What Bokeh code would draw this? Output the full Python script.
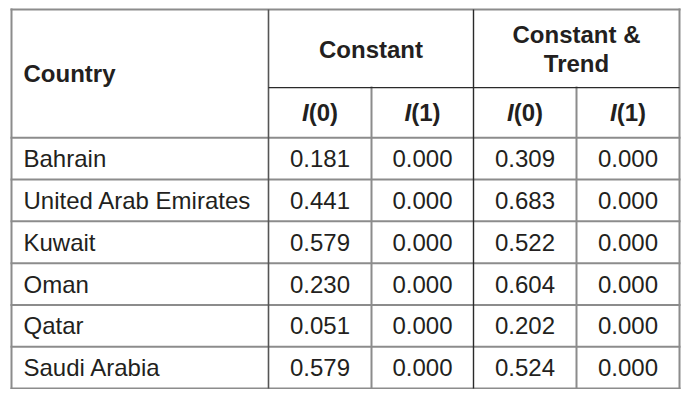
from bokeh.plotting import figure
from bokeh.models import Range1d, ColumnDataSource
from bokeh.core.properties import value
from bokeh.embed import file_html
from bokeh.resources import INLINE

# ---- data ----
countries = ["Bahrain", "United Arab Emirates", "Kuwait", "Oman", "Qatar", "Saudi Arabia"]
constant_i0 = [0.181, 0.441, 0.579, 0.230, 0.051, 0.579]
constant_i1 = [0.000, 0.000, 0.000, 0.000, 0.000, 0.000]
trend_i0 = [0.309, 0.683, 0.522, 0.604, 0.202, 0.524]
trend_i1 = [0.000, 0.000, 0.000, 0.000, 0.000, 0.000]
group_labels = ["Constant", "Constant &\nTrend"]
sub_labels = ["0", "1", "0", "1"]
first_header = "Country"

# ---- layout (reference pixel coordinates) ----
W, H = 683, 389
XS = [11, 268, 371, 473, 576, 679]
Y_TOP, Y_SUB, Y_HEAD, Y_BOT = 9, 90, 142, 402
n = len(countries)
row_h = (Y_BOT - Y_HEAD) / n

# vertical mapping so that top border -> 9px and bottom border -> 388px of figure
k = (Y_BOT - Y_TOP) / (388 - 9)
y_lo = Y_TOP - 9 * k
y_hi = Y_TOP + (H - 9) * k

FONT = value("Liberation Sans")
FS = "24px"
TXT = "#231f20"
GRAY = "#8c8c8c"
DARK = "#2a2a2a"

p = figure(width=W, height=H, output_backend="svg", toolbar_location=None,
           x_range=Range1d(0, W), y_range=Range1d(y_hi, y_lo), min_border=0)
p.axis.visible = False
p.grid.visible = False
p.outline_line_color = None
p.background_fill_color = "white"
p.border_fill_color = "white"

# gray lines
gx0, gy0, gx1, gy1 = [], [], [], []
def gseg(a, b, c, d):
    gx0.append(a); gy0.append(b); gx1.append(c); gy1.append(d)

gseg(XS[0], Y_TOP, XS[-1], Y_TOP)
gseg(XS[0], Y_BOT, XS[-1], Y_BOT)
gseg(XS[0], Y_TOP, XS[0], Y_BOT)
gseg(XS[-1], Y_TOP, XS[-1], Y_BOT)
for i in range(n):
    y = Y_HEAD + i * row_h
    gseg(XS[0], y, XS[-1], y)
gseg(XS[2], Y_SUB, XS[2], Y_BOT)
gseg(XS[4], Y_SUB, XS[4], Y_BOT)
p.segment(x0=gx0, y0=gy0, x1=gx1, y1=gy1, line_color=GRAY, line_width=2, line_cap="square")

# darker lines
p.segment(x0=[XS[1]], y0=[Y_TOP], x1=[XS[1]], y1=[Y_BOT], line_color="#555555", line_width=1.6)
p.segment(x0=[XS[3]], y0=[Y_TOP], x1=[XS[3]], y1=[Y_BOT], line_color=DARK, line_width=1.4)
p.segment(x0=[XS[1]], y0=[Y_SUB], x1=[XS[-1]], y1=[Y_SUB], line_color=DARK, line_width=1.4)

# header texts
p.text(x=[23], y=[(Y_TOP + Y_HEAD) / 2], text=[first_header], text_font=FONT,
       text_font_size=FS, text_font_style="bold", text_color=TXT,
       text_align="left", text_baseline="middle")
p.text(x=[(XS[1] + XS[3]) / 2], y=[(Y_TOP + Y_SUB) / 2 + 0.5], text=[group_labels[0]],
       text_font=FONT, text_font_size=FS, text_font_style="bold", text_color=TXT,
       text_align="center", text_baseline="middle")
g2 = group_labels[1].split("\n")
p.text(x=[(XS[3] + XS[5]) / 2] * 2, y=[34.5, 64.5], text=g2,
       text_font=FONT, text_font_size=FS, text_font_style="bold", text_color=TXT,
       text_align="center", text_baseline="middle")

# I(0) / I(1) sub headers: italic "I" + upright "(k)"
fs_px = 24
tot_w = 1.5 * fs_px
cx = [(XS[i] + XS[i + 1]) / 2 for i in range(1, 5)]
split_x = [c - tot_w / 2 + 0.278 * fs_px for c in cx]
y_sub = (Y_SUB + Y_HEAD) / 2
p.text(x=split_x, y=[y_sub] * 4, text=["I"] * 4, text_font=FONT, text_font_size=FS,
       text_font_style="bold italic", text_color=TXT, text_align="right", text_baseline="middle")
p.text(x=split_x, y=[y_sub] * 4, text=["(" + s + ")" for s in sub_labels], text_font=FONT,
       text_font_size=FS, text_font_style="bold", text_color=TXT,
       text_align="left", text_baseline="middle")

# body
row_y = [Y_HEAD + (i + 0.5) * row_h for i in range(n)]
p.text(x=[23] * n, y=row_y, text=countries, text_font=FONT, text_font_size=FS,
       text_color=TXT, text_align="left", text_baseline="middle")
for c, vals in zip(cx, [constant_i0, constant_i1, trend_i0, trend_i1]):
    src = ColumnDataSource(dict(x=[c] * n, y=row_y, t=[f"{v:.3f}" for v in vals]))
    p.text(x="x", y="y", text="t", source=src, text_font=FONT, text_font_size=FS,
           text_color=TXT, text_align="center", text_baseline="middle")

open("out.html", "w").write(file_html(p, INLINE))
